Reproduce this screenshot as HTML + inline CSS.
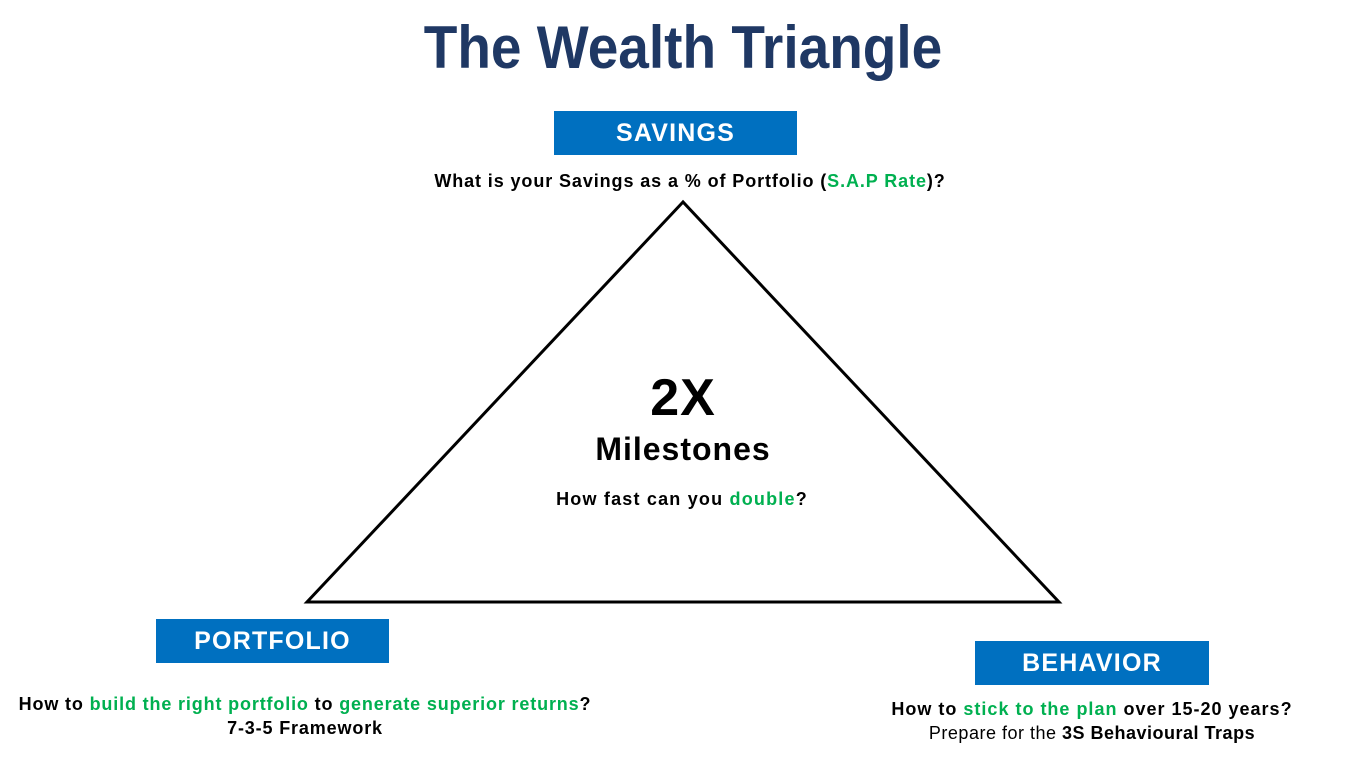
<!DOCTYPE html>
<html><head><meta charset="utf-8"><style>
html,body{margin:0;padding:0;background:#fff;}
body{width:1366px;height:768px;position:relative;overflow:hidden;font-family:"Liberation Sans",Arial,sans-serif;}
.t{position:absolute;white-space:nowrap;text-align:center;font-weight:bold;color:#000;}
.g{color:#00B050;}
.box{position:absolute;background:#0070C0;color:#fff;font-weight:bold;font-size:25px;display:flex;align-items:center;justify-content:center;letter-spacing:1.2px;}
</style></head><body>
<div class="t" style="left:0;width:1366px;top:12px;font-size:55px;color:#1F3864;line-height:70px;transform:scaleY(1.1);">The Wealth Triangle</div>
<div class="box" style="left:554px;top:111px;width:243px;height:44px;">SAVINGS</div>
<div class="t" style="left:390px;width:600px;top:170px;font-size:18px;line-height:22px;letter-spacing:0.9px;">What is your Savings as a % of Portfolio (<span class="g">S.A.P Rate</span>)?</div>
<svg style="position:absolute;left:0;top:0" width="1366" height="768"><polygon points="683,202 307,602 1059,602" fill="none" stroke="#000" stroke-width="3"/></svg>
<div class="t" style="left:483px;width:400px;top:368px;font-size:52px;line-height:60px;letter-spacing:1px;">2X</div>
<div class="t" style="left:483px;width:400px;top:430px;font-size:32px;line-height:38px;letter-spacing:1px;">Milestones</div>
<div class="t" style="left:482px;width:400px;top:488px;font-size:18px;line-height:22px;letter-spacing:1.2px;">How fast can you <span class="g">double</span>?</div>
<div class="box" style="left:156px;top:619px;width:233px;height:44px;">PORTFOLIO</div>
<div class="t" style="left:0;width:610px;top:693px;font-size:18px;line-height:22px;letter-spacing:0.85px;">How to <span class="g">build the right portfolio</span> to <span class="g">generate superior returns</span>?</div>
<div class="t" style="left:0;width:610px;top:717px;font-size:18px;line-height:22px;letter-spacing:0.85px;">7-3-5 Framework</div>
<div class="box" style="left:975px;top:641px;width:234px;height:44px;">BEHAVIOR</div>
<div class="t" style="left:842px;width:500px;top:698px;font-size:18px;line-height:22px;letter-spacing:1px;">How to <span class="g">stick to the plan</span> over 15-20 years?</div>
<div class="t" style="left:842px;width:500px;top:722px;font-size:18px;line-height:22px;font-weight:normal;letter-spacing:0.5px;">Prepare for the <b>3S Behavioural Traps</b></div>
</body></html>
